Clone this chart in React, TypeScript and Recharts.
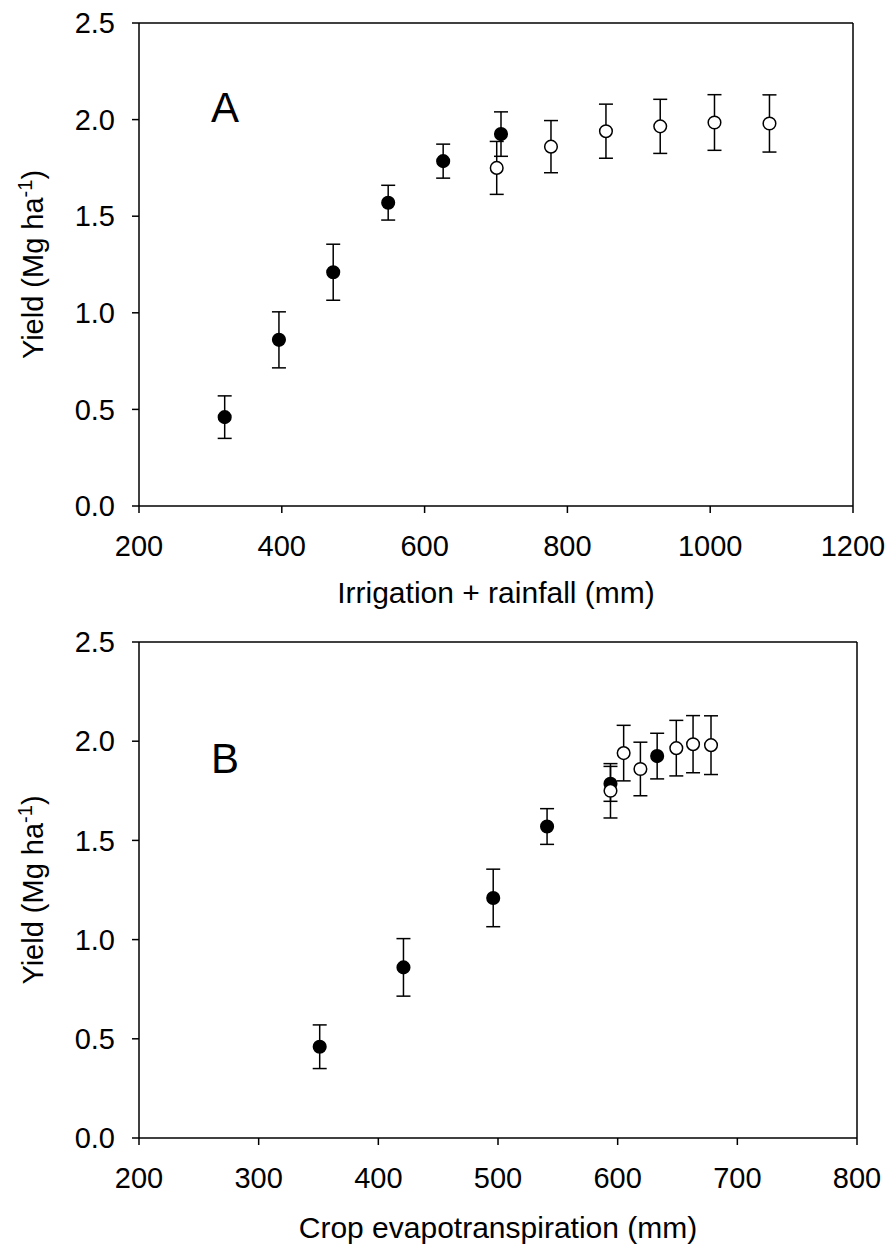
import { ScatterChart, Scatter, XAxis, YAxis, ErrorBar, ReferenceLine, Customized } from "recharts"

// yield (Mg/ha) and error, shared by both panels
const yieldFilled = [0.46, 0.86, 1.21, 1.57, 1.785, 1.925]
const errFilled = [0.11, 0.145, 0.145, 0.09, 0.088, 0.115]
const yieldOpen = [1.75, 1.86, 1.94, 1.965, 1.985, 1.98]
const errOpen = [0.137, 0.135, 0.14, 0.14, 0.144, 0.148]

// panel A: irrigation + rainfall (mm)
const waterFilled = [320, 396, 472, 549, 626, 707]
const waterOpen = [701, 777, 854, 930, 1006, 1083]

// panel B: crop evapotranspiration (mm)
const etFilled = [351, 421, 496, 541, 594, 633]
const etOpen = [594, 619, 605, 649, 663, 678]

const yTicks = [0, 0.5, 1, 1.5, 2, 2.5]
const xTicksA = [200, 400, 600, 800, 1000, 1200]
const xTicksB = [200, 300, 400, 500, 600, 700, 800]

const FONT = "'Liberation Sans', Arial, sans-serif"

const toRows = (xs: number[], ys: number[], errs: number[]) =>
  xs.map((x, i) => ({ x, y: ys[i], err: errs[i] }))

const dot = (fill: string) => (props: any) => (
  <circle cx={props.cx} cy={props.cy} r={6.3} fill={fill} stroke="#000" strokeWidth={1.5} />
)

const yLabel = (props: any) => {
  const { x, y, height } = props.viewBox
  const cx = x + 43
  const cy = y + height / 2
  return (
    <text
      x={cx}
      y={cy}
      transform={`rotate(-90, ${cx}, ${cy})`}
      textAnchor="middle"
      fontSize={29}
      fontFamily={FONT}
      fill="#000"
    >
      Yield (Mg ha
      <tspan dy={-11} fontSize={20}>-1</tspan>
      <tspan dy={11}>)</tspan>
    </text>
  )
}

const xLabel = (title: string, dy: number) => (props: any) => {
  const { x, y, width } = props.viewBox
  return (
    <text x={x + width / 2} y={y + dy} textAnchor="middle" fontSize={30} fontFamily={FONT} fill="#000">
      {title}
    </text>
  )
}

type PanelProps = {
  letter: string
  letterY: number
  title: string
  titleDy: number
  xs1: number[]
  xs2: number[]
  xTicks: number[]
  height: number
  margin: { top: number; right: number; bottom: number; left: number }
}

const Panel = ({ letter, letterY, title, titleDy, xs1, xs2, xTicks, height, margin }: PanelProps) => {
  const xMin = xTicks[0]
  const xMax = xTicks[xTicks.length - 1]
  const line = { stroke: "#000", strokeWidth: 1.5 }
  return (
    <ScatterChart width={892} height={height} margin={margin}>
      <XAxis
        type="number"
        dataKey="x"
        domain={[xMin, xMax]}
        ticks={xTicks}
        axisLine={line}
        tickLine={line}
        tickSize={7}
        tickMargin={22}
        height={60}
        tick={{ fill: "#000", fontSize: 29, fontFamily: FONT }}
        label={{ content: xLabel(title, titleDy) }}
      />
      <YAxis
        type="number"
        dataKey="y"
        domain={[0, 2.5]}
        ticks={yTicks}
        tickFormatter={(v: number) => v.toFixed(1)}
        axisLine={line}
        tickLine={line}
        tickSize={7}
        tickMargin={17}
        width={139}
        tick={{ fill: "#000", fontSize: 29, fontFamily: FONT }}
        label={{ content: yLabel }}
      />
      <ReferenceLine y={2.5} stroke="#000" strokeWidth={1.5} />
      <ReferenceLine x={xMax} stroke="#000" strokeWidth={1.5} />
      <Scatter data={toRows(xs1, yieldFilled, errFilled)} shape={dot("#000")} isAnimationActive={false}>
        <ErrorBar dataKey="err" direction="y" width={7} stroke="#000" strokeWidth={1.5} isAnimationActive={false} />
      </Scatter>
      <Scatter data={toRows(xs2, yieldOpen, errOpen)} shape={dot("#fff")} isAnimationActive={false}>
        <ErrorBar dataKey="err" direction="y" width={7} stroke="#000" strokeWidth={1.5} isAnimationActive={false} />
      </Scatter>
      <Customized
        component={() => (
          <text x={211} y={letterY} fontSize={42} fontFamily={FONT} fill="#000">
            {letter}
          </text>
        )}
      />
    </ScatterChart>
  )
}

const App = () => {
  return (
    <div style={{ position: "absolute", left: 0, top: 0, width: 892, height: 1245, background: "#fff" }}>
      <Panel
        letter="A"
        letterY={122}
        title="Irrigation + rainfall (mm)"
        titleDy={97}
        xs1={waterFilled}
        xs2={waterOpen}
        xTicks={xTicksA}
        height={620}
        margin={{ top: 23, right: 39, bottom: 54, left: 0 }}
      />
      <Panel
        letter="B"
        letterY={153}
        title="Crop evapotranspiration (mm)"
        titleDy={99.5}
        xs1={etFilled}
        xs2={etOpen}
        xTicks={xTicksB}
        height={625}
        margin={{ top: 22, right: 35, bottom: 47, left: 0 }}
      />
    </div>
  )
}

export default App
